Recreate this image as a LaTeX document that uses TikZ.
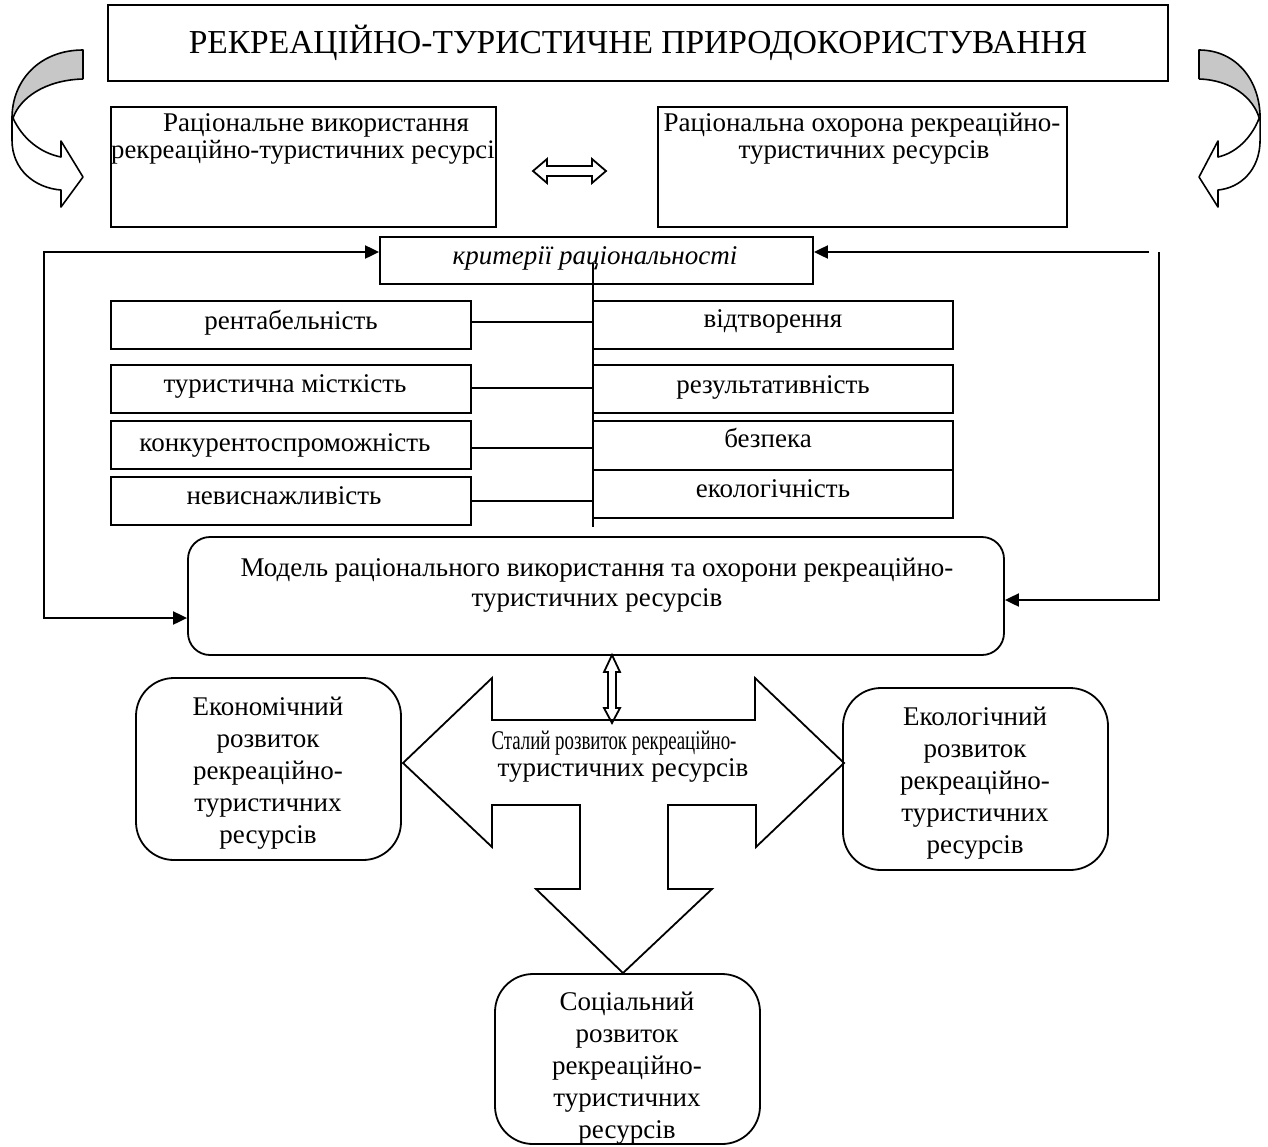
\documentclass[tikz,border=0pt]{standalone}
\usepackage{fontspec}
\setmainfont{Liberation Serif}
\usepackage{graphicx}
\usetikzlibrary{arrows.meta}
\newcommand\mycurvedarr{%
  \fill[black!22] (83,50) .. controls (40,50) and (12,80) .. (12,118) -- (13,118) .. controls (20,98) and (45,80) .. (83,79) -- cycle;
  \draw[cstroke] (83,79) -- (83,50) .. controls (40,50) and (12,80) .. (12,118);
  \draw[cstroke,fill=white] (83,79) .. controls (45,80) and (20,98) .. (13,118) .. controls (22,138) and (40,153) .. (61,157) -- (61,141) -- (83,177) -- (61,207) -- (61,190) .. controls (35,188) and (12,170) .. (12,140) -- (12,118) -- (13,118);
}
\begin{document}
\begin{tikzpicture}[x=1pt,y=-1pt,
  boxst/.style={draw, line width=1.8pt, inner sep=0pt, fill=none},
  rbox/.style={boxst, rounded corners=38pt},
  conn/.style={line width=2pt},
  cstroke/.style={line width=1.6pt, line join=round},
  shapest/.style={line width=1.8pt, line join=miter},
  txt/.style={font=\fontsize{27}{30}\selectfont, inner sep=0pt},
  mtxt/.style={font=\fontsize{27}{32}\selectfont, inner sep=0pt, align=center},
  tipst/.tip={Triangle[length=14pt,width=13pt]}
]
\useasboundingbox (0,0) rectangle (1268,1146);

% curved arrows
\mycurvedarr
\begin{scope}[xshift=1270.4pt, xscale=-0.86]
\mycurvedarr
\end{scope}

% title
\node[boxst, minimum width=1060pt, minimum height=76pt] (title) at (638,43) {};
\node[txt, font=\fontsize{33.5}{36}\selectfont, anchor=base] (ttitle) at (638,53) {РЕКРЕАЦІЙНО-ТУРИСТИЧНЕ ПРИРОДОКОРИСТУВАННЯ};

% upper boxes
\node[boxst, minimum width=385pt, minimum height=120pt] (lbox) at (303.5,167) {};
\node[boxst, minimum width=409pt, minimum height=120pt] (rbox) at (862.5,167) {};
\node[txt, anchor=base] (tl1) at (316,131) {Раціональне використання};
\begin{scope}
\clip (111,107) rectangle (496,227);
\node[txt, font=\fontsize{26.7}{30}\selectfont, anchor=base west] (tl2) at (111,158) {рекреаційно-туристичних ресурсів};
\end{scope}
\node[txt, anchor=base] (tr1) at (862,131) {Раціональна охорона рекреаційно-};
\node[txt, anchor=base] (tr2) at (864,158) {туристичних ресурсів};

% horizontal double arrow
\draw[shapest] (533,171) -- (547,159) -- (547,166) -- (592,166) -- (592,159) -- (606,171) -- (592,183) -- (592,176) -- (547,176) -- (547,183) -- cycle;

% criteria box
\node[boxst, minimum width=433pt, minimum height=47pt] (crit) at (596.5,260.5) {};
\node[txt, anchor=base, font=\fontsize{27}{30}\selectfont\itshape] (tcrit) at (595,264) {критерії раціональності};

% criteria list
\node[boxst, minimum width=360pt, minimum height=48pt] (lb1) at (291,325) {};
\node[boxst, minimum width=360pt, minimum height=48pt] (lb2) at (291,389) {};
\node[boxst, minimum width=360pt, minimum height=48pt] (lb3) at (291,445) {};
\node[boxst, minimum width=360pt, minimum height=48pt] (lb4) at (291,501) {};
\node[boxst, minimum width=360pt, minimum height=48pt] (rb1) at (773,325) {};
\node[boxst, minimum width=360pt, minimum height=48pt] (rb2) at (773,389) {};
\node[boxst, minimum width=360pt, minimum height=49pt] (rb3) at (773,445.5) {};
\node[boxst, minimum width=360pt, minimum height=48pt] (rb4) at (773,494) {};

\node[txt, anchor=base] (tlb1) at (291,329) {рентабельність};
\node[txt, anchor=base] (tlb2) at (285,392) {туристична місткість};
\node[txt, anchor=base] (tlb3) at (285,451) {конкурентоспроможність};
\node[txt, anchor=base] (tlb4) at (284,504) {невиснажливість};
\node[txt, anchor=base] (trb1) at (773,327) {відтворення};
\node[txt, anchor=base] (trb2) at (773,393) {результативність};
\node[txt, anchor=base] (trb3) at (768,447) {безпека};
\node[txt, anchor=base] (trb4) at (773,497) {екологічність};

\coordinate (vtop) at (593,263);
\coordinate (vbot) at (593,527);
\draw[line width=1.6pt] (vtop) -- (vbot);
\draw[line width=1.6pt] (lb1.east |- 0,322) -- (vtop |- 0,322);
\draw[line width=1.6pt] (lb2.east |- 0,388) -- (vtop |- 0,388);
\draw[line width=1.6pt] (lb3.east |- 0,448) -- (vtop |- 0,448);
\draw[line width=1.6pt] (lb4.east |- 0,501) -- (vtop |- 0,501);

% model box
\node[boxst, rounded corners=22pt, minimum width=816pt, minimum height=118pt] (model) at (596,596) {};
\node[txt, anchor=base] (tm1) at (597,576) {Модель раціонального використання та охорони рекреаційно-};
\node[txt, anchor=base] (tm2) at (597,606) {туристичних ресурсів};

% feedback connectors
\coordinate (ltop) at (44,252);
\coordinate (lbot) at (44,618);
\draw[conn, tipst-tipst] (crit.west |- ltop) -- (ltop) -- (lbot) -- (model.west |- lbot);
\coordinate (rtopa) at (1149,252);
\coordinate (rtopb) at (1159,252);
\coordinate (rbot) at (1159,600);
\draw[conn, -tipst] (rtopa) -- (crit.east |- rtopa);
\draw[conn, -tipst] (rtopb) -- (rbot) -- (model.east |- rbot);

% vertical double arrow
\draw[shapest] (612,655) -- (620,672) -- (616,672) -- (616,708) -- (620,708) -- (612,723) -- (604,708) -- (608,708) -- (608,672) -- (604,672) -- cycle;

% three-way arrow
\draw[shapest] (403,763) -- (492,678) -- (492,720) -- (755,720) -- (755,678) -- (844,763) -- (756,847) -- (756,805) -- (668,805) -- (668,889) -- (712,889) -- (623,973) -- (536,889) -- (580,889) -- (580,805) -- (492,805) -- (492,847) -- cycle;
\node[txt, anchor=base] (tc1) at (614,749) {\resizebox{245pt}{\height}{Сталий розвиток рекреаційно-}};
\node[txt, anchor=base] (tc2) at (623,776) {туристичних ресурсів};

% development boxes
\node[rbox, minimum width=265pt, minimum height=182pt] (ek) at (268.5,769) {};
\node[mtxt] (tek) at (268,773) {Економічний\\розвиток\\рекреаційно-\\туристичних\\ресурсів};
\node[rbox, minimum width=265pt, minimum height=182pt] (eco) at (975.5,779) {};
\node[mtxt] (teco) at (975,783) {Екологічний\\розвиток\\рекреаційно-\\туристичних\\ресурсів};
\node[rbox, minimum width=265pt, minimum height=170pt] (soc) at (627.5,1059) {};
\node[mtxt] (tsoc) at (627,1068) {Соціальний\\розвиток\\рекреаційно-\\туристичних\\ресурсів};
\end{tikzpicture}
\end{document}
